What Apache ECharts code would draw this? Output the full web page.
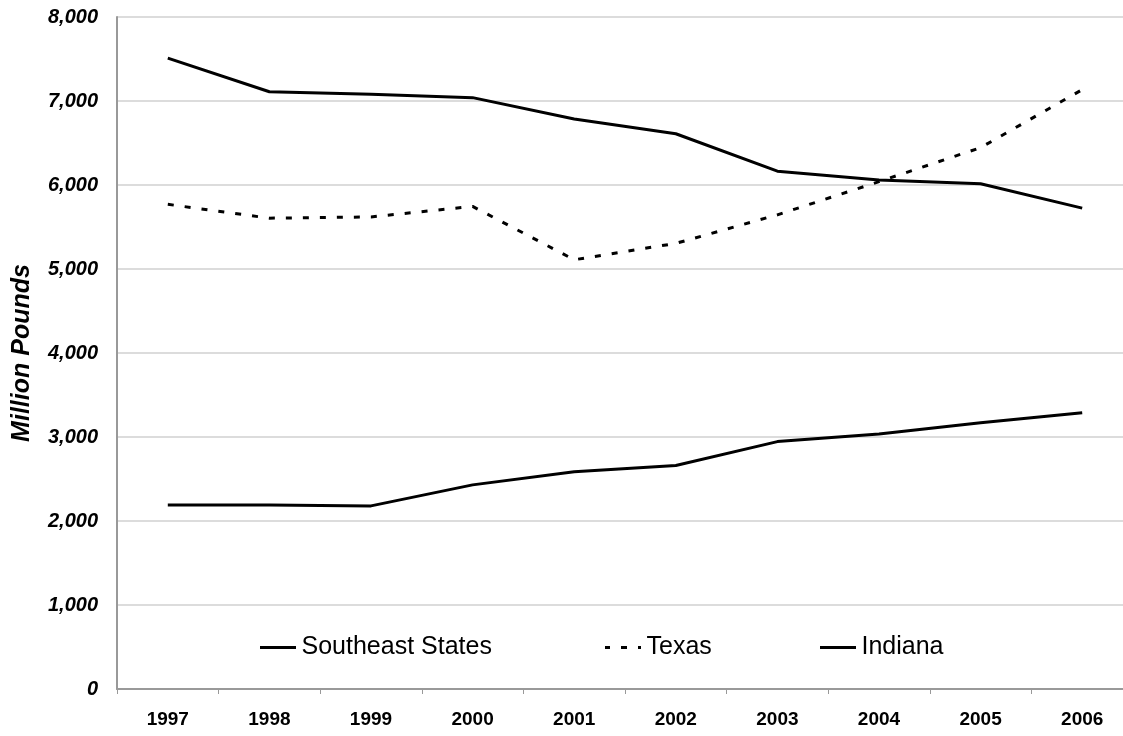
<!DOCTYPE html>
<html>
<head>
<meta charset="utf-8">
<title>Million Pounds</title>
<script src="https://cdn.jsdelivr.net/npm/echarts@6/dist/echarts.min.js"></script>
<style>
  html, body { margin: 0; padding: 0; background: #fff; overflow: hidden; }
  /* plot runs a little past the right edge of the window, as in the original */
  #chart { width: 1140px; height: 736px; }
</style>
</head>
<body>
<div id="chart"></div>
<script>
// data
const years = ['1997', '1998', '1999', '2000', '2001', '2002', '2003', '2004', '2005', '2006']
const southeast = [7510, 7110, 7080, 7040, 6785, 6610, 6165, 6060, 6015, 5725]
const texas = [5770, 5605, 5620, 5745, 5110, 5305, 5645, 6040, 6445, 7135]
const indiana = [2190, 2190, 2180, 2430, 2585, 2660, 2945, 3035, 3170, 3290]

const chart = echarts.init(document.getElementById('chart'))

const font = 'Liberation Sans, Arial, sans-serif'
const solidIcon = 'path://M0,0h36v3h-36z'
const dashIcon = 'path://M0,0h5v3h-5z M16,0h6v3h-6z M33,0h3v3h-3z'

// one legend per item so the gaps can follow the original
function legendAt (name, left, icon) {
  return {
    data: [name],
    left: left,
    top: 630,
    icon: icon,
    itemWidth: 37,
    itemHeight: 3,
    textStyle: { fontFamily: font, fontSize: 25, color: '#000' },
    selectedMode: false
  }
}

const option = {
  animation: false,
  backgroundColor: '#fff',
  legend: [
    legendAt('Southeast States', 255, solidIcon),
    legendAt('Texas', 600, dashIcon),
    legendAt('Indiana', 815, solidIcon)
  ],
  grid: {
    left: 117,
    right: 7,
    top: 17,
    bottom: 47
  },
  xAxis: {
    type: 'category',
    data: years,
    boundaryGap: true,
    axisLine: { lineStyle: { color: '#999', width: 2 } },
    axisTick: { show: true, length: 5, lineStyle: { color: '#999', width: 1 } },
    axisLabel: {
      margin: 21,
      fontFamily: font,
      fontSize: 19,
      fontWeight: 'bold',
      color: '#000'
    },
    splitLine: { show: false }
  },
  yAxis: {
    type: 'value',
    min: 0,
    max: 8000,
    interval: 1000,
    name: 'Million Pounds',
    nameLocation: 'middle',
    nameGap: 82,
    nameTextStyle: {
      fontFamily: font,
      fontSize: 25,
      fontWeight: 'bold',
      fontStyle: 'italic',
      color: '#000'
    },
    axisLine: { show: true, lineStyle: { color: '#999', width: 2 } },
    axisTick: { show: false },
    axisLabel: {
      margin: 19,
      fontFamily: font,
      fontSize: 20,
      fontWeight: 'bold',
      fontStyle: 'italic',
      color: '#000',
      formatter: v => v.toLocaleString('en-US')
    },
    splitLine: { lineStyle: { color: '#dcdcdc', width: 2 } }
  },
  series: [
    {
      name: 'Southeast States',
      type: 'line',
      data: southeast,
      symbol: 'none',
      lineStyle: { color: '#000', width: 3 },
      itemStyle: { color: '#000' }
    },
    {
      name: 'Texas',
      type: 'line',
      data: texas,
      symbol: 'none',
      lineStyle: { color: '#000', width: 3, type: [6, 11] },
      itemStyle: { color: '#000' }
    },
    {
      name: 'Indiana',
      type: 'line',
      data: indiana,
      symbol: 'none',
      lineStyle: { color: '#000', width: 3 },
      itemStyle: { color: '#000' }
    }
  ]
}

chart.setOption(option)
</script>
</body>
</html>
